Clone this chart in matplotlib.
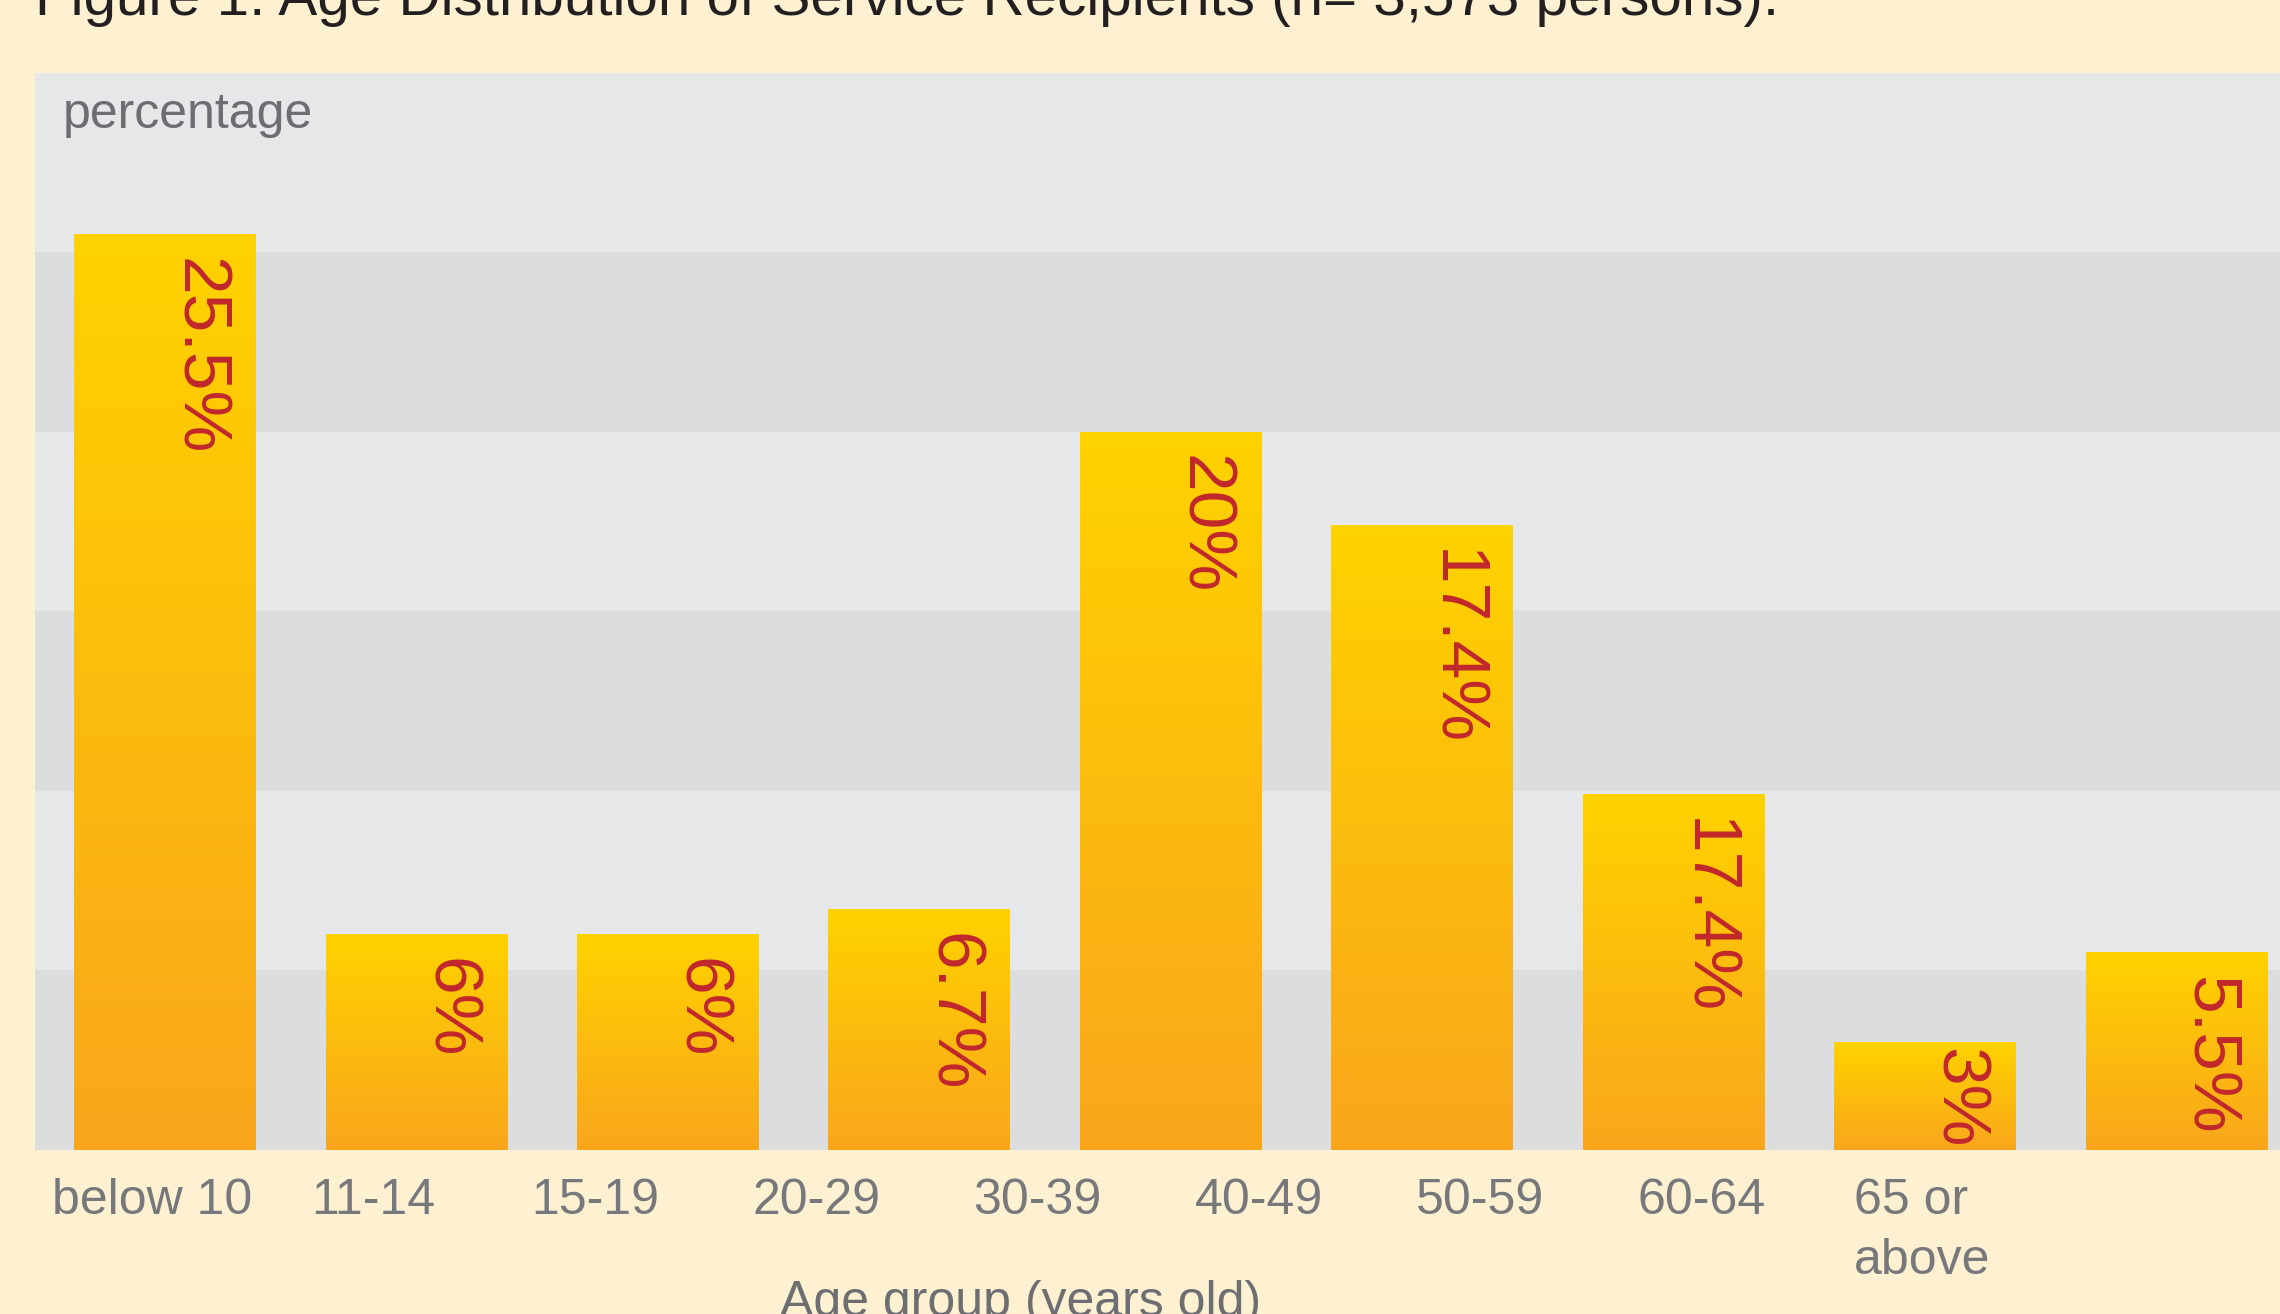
import numpy as np
import matplotlib
matplotlib.use("Agg")
import matplotlib.pyplot as plt
from matplotlib.colors import LinearSegmentedColormap

plt.rcParams['font.family'] = ['Liberation Sans', 'DejaVu Sans']

# data
age_groups = ["below 10", "11-14", "15-19", "20-29", "30-39", "40-49",
              "50-59", "60-64", "65 or\nabove"]
pct = [25.5, 6, 6, 6.7, 20, 17.4, 9.9, 3, 5.5]
pct_labels = ["25.5%", "6%", "6%", "6.7%", "20%", "17.4%", "17.4%", "3%", "5.5%"]

title = "Figure 1: Age Distribution of Service Recipients (n= 3,573 persons)."

bg = "#fef1d2"
band_light = "#e6e7e9"
band_dark = "#dcdddf"
red = "#c1272d"
grey = "#77787b"

fig = plt.figure(figsize=(22.8, 13.14), dpi=100, facecolor=bg)
ax = fig.add_axes([0.0153, 0.125, 0.9847, 0.8197])
ax.set_facecolor(band_light)

for lo in range(0, 30, 10):
    ax.axhspan(lo, lo + 5, color=band_dark, zorder=0, lw=0)

x = np.arange(len(pct))
w = 0.723
bars = ax.bar(x, pct, width=w, color="#ffd200", zorder=2, lw=0)

# vertical yellow -> orange gradient inside each bar
cmap = LinearSegmentedColormap.from_list("yo", ["#f9a61c", "#ffd200"])
grad = np.linspace(0, 1, 256).reshape(-1, 1)
for b in bars:
    x0 = b.get_x()
    h = b.get_height()
    im = ax.imshow(grad, extent=[x0, x0 + w, 0, h], origin="lower",
                   aspect="auto", cmap=cmap, zorder=3)
    im.set_clip_path(b)

for i, (v, lab) in enumerate(zip(pct, pct_labels)):
    dy = -17 if v > 4 else -4   # short bar: label pushed up to fit
    ax.annotate(lab, (i + w / 2, v), xytext=(-19, dy), textcoords="offset points",
                rotation=-90, ha="right", va="top", fontsize=50, color=red, zorder=4)

ax.set_xlim(-0.518, 8.412)
ax.set_ylim(0, 30)
ax.set_yticks([])
for s in ax.spines.values():
    s.set_visible(False)

tick_pos = np.arange(len(age_groups)) * 0.88 - 0.05
ax.set_xticks(tick_pos)
ax.set_xticklabels(age_groups, fontsize=36, color=grey)
ax.tick_params(axis="x", length=0, pad=20)
for t in ax.get_xticklabels():
    t.set_multialignment("left")
    t.set_linespacing(1.4)

fig.text(0.0274, 0.9027, "percentage", fontsize=36, color="#6d6e71", va="baseline")
fig.text(0.4475, 0.026, "Age group (years old)", fontsize=36, color="#6d6e71",
         ha="center", va="top")
fig.text(0.0153, 0.9886, title, fontsize=42, color="#231f20", va="baseline")

fig.savefig("out.png", dpi=100, facecolor=bg)
